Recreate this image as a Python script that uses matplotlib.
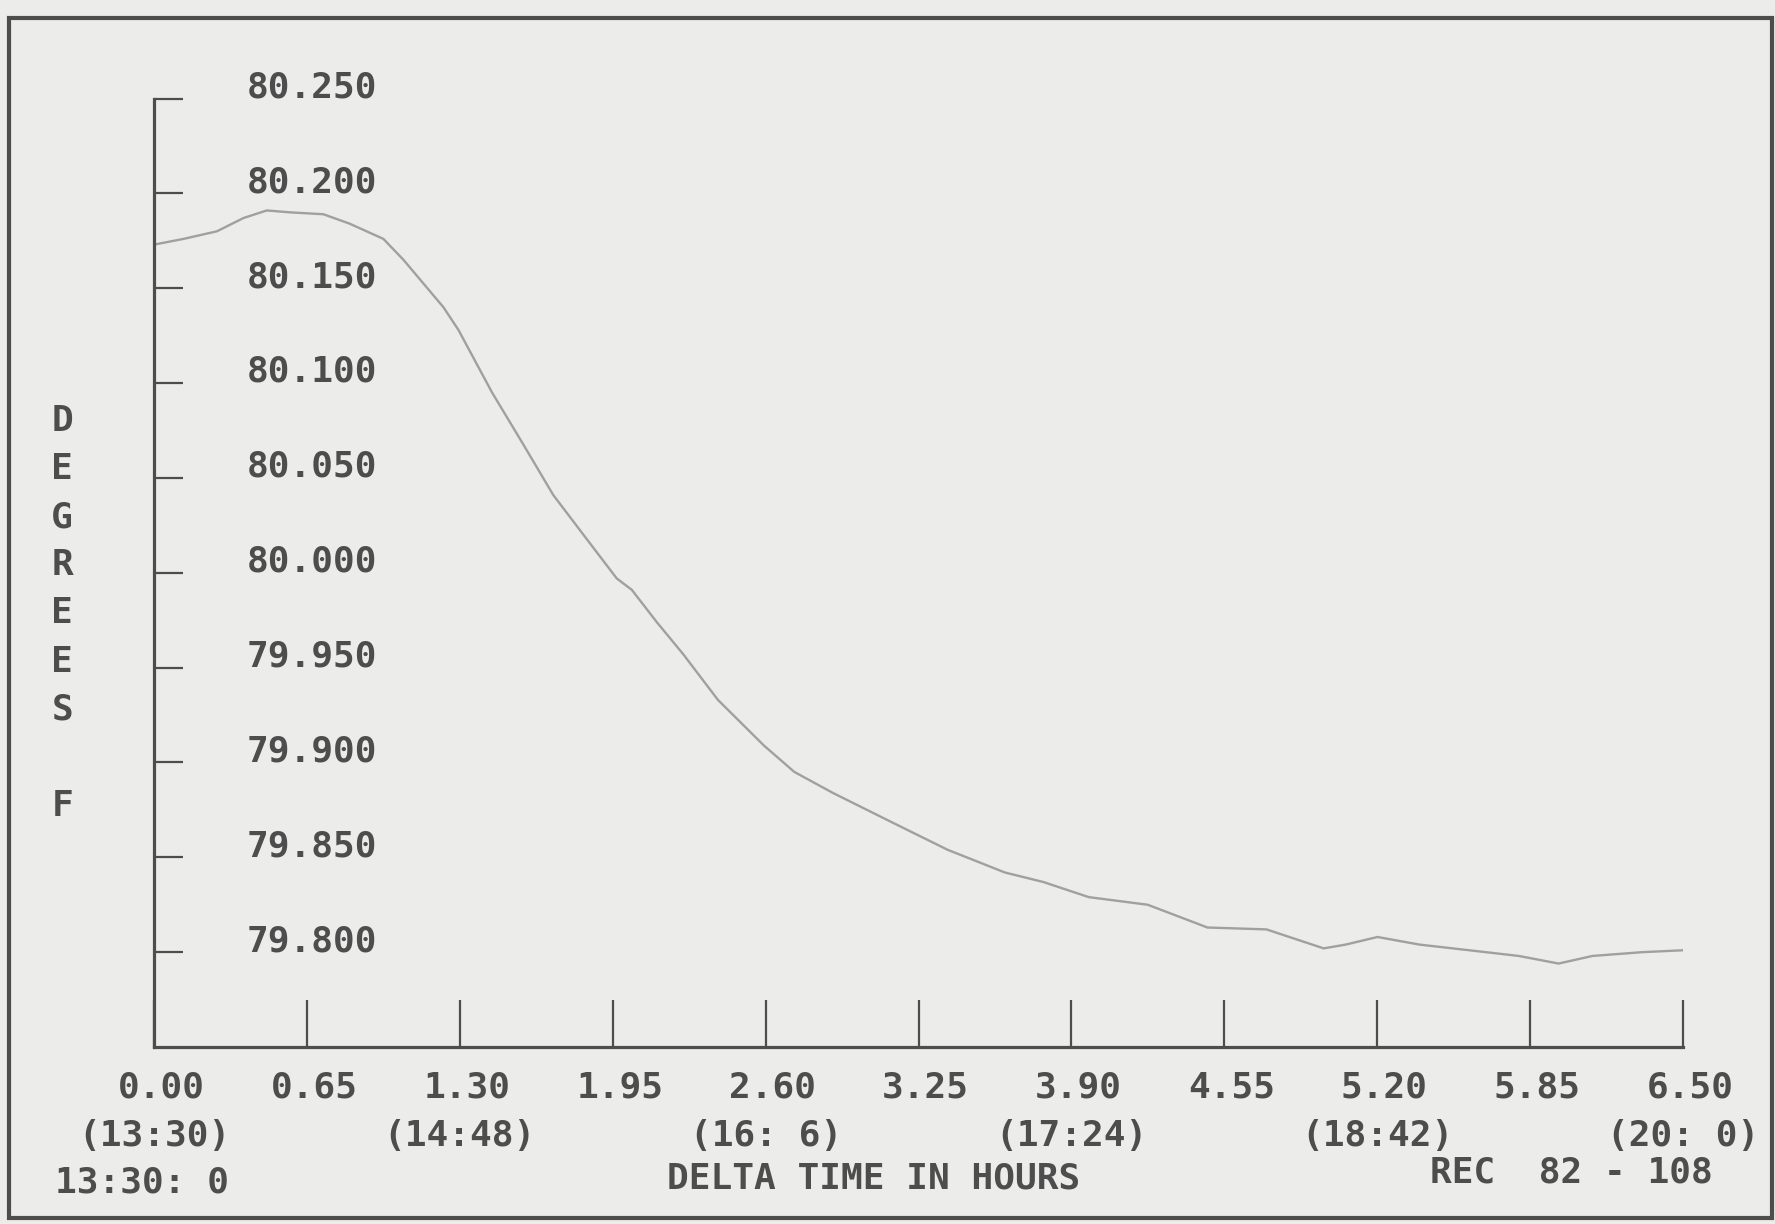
import matplotlib
matplotlib.use("Agg")
import matplotlib.pyplot as plt
from matplotlib.patches import Rectangle
from matplotlib.transforms import offset_copy

# temperature trace (delta time in hours, degrees F)
hours = [0.000, 0.125, 0.267, 0.380, 0.479, 0.578, 0.720, 0.832, 0.975, 1.060,
         1.230, 1.294, 1.437, 1.568, 1.697, 1.844, 1.967, 2.031, 2.137, 2.250,
         2.397, 2.592, 2.722, 2.885, 3.128, 3.373, 3.617, 3.780, 3.974, 4.224,
         4.478, 4.729, 4.972, 5.066, 5.201, 5.379, 5.591, 5.802, 5.971, 6.115,
         6.327, 6.500]
degrees = [80.173, 80.176, 80.180, 80.187, 80.191, 80.190, 80.189, 80.184, 80.176, 80.165,
           80.140, 80.128, 80.095, 80.068, 80.041, 80.017, 79.997, 79.991, 79.974, 79.957,
           79.933, 79.909, 79.895, 79.884, 79.869, 79.854, 79.842, 79.837, 79.829, 79.825,
           79.813, 79.812, 79.802, 79.804, 79.808, 79.804, 79.801, 79.798, 79.794, 79.798,
           79.800, 79.801]

x_ticks = [0.00, 0.65, 1.30, 1.95, 2.60, 3.25, 3.90, 4.55, 5.20, 5.85, 6.50]
x_tick_text = ["0.00", "0.65", "1.30", "1.95", "2.60", "3.25", "3.90", "4.55", "5.20", "5.85", "6.50"]
clock_ticks = [0.00, 1.30, 2.60, 3.90, 5.20, 6.50]
clock_text = ["(13:30)", "(14:48)", "(16: 6)", "(17:24)", "(18:42)", "(20: 0)"]
y_ticks = [79.80, 79.85, 79.90, 79.95, 80.00, 80.05, 80.10, 80.15, 80.20, 80.25]
y_tick_text = ["79.800", "79.850", "79.900", "79.950", "80.000",
               "80.050", "80.100", "80.150", "80.200", "80.250"]
y_title = ["D", "E", "G", "R", "E", "E", "S", " ", "F"]

BG = "#ececea"
INK = "#4d4d4d"
TRACE = "#a0a0a0"
FONT = "DejaVu Sans Mono"
FS = 26

fig = plt.figure(figsize=(17.75, 12.24), dpi=100, facecolor=BG)

# outer frame of the printout
fig.patches.append(Rectangle((0.0051, 0.0049), 0.9932, 0.9804, transform=fig.transFigure,
                             fill=False, edgecolor=INK, linewidth=3))

ax = fig.add_axes([0.0868, 0.1446, 0.8614, 0.7749])
ax.set_facecolor(BG)
ax.plot(hours, degrees, color=TRACE, linewidth=1.7)
ax.set_xlim(0, 6.5)
ax.set_ylim(79.75, 80.25)

for s in ["top", "right"]:
    ax.spines[s].set_visible(False)
for s in ["left", "bottom"]:
    ax.spines[s].set_color(INK)
    ax.spines[s].set_linewidth(2.3)

ax.set_yticks(y_ticks)
ax.set_yticklabels([])
ax.tick_params(axis="y", direction="in", length=21, width=1.6, color=INK)
ax.set_xticks(x_ticks)
ax.set_xticklabels([])
ax.tick_params(axis="x", direction="in", length=34, width=1.6, color=INK)

# y tick labels sit inside the plot, a bit above each tick
ytr = offset_copy(ax.get_yaxis_transform(), fig=fig, x=0, y=8, units="points")
for v, t in zip(y_ticks, y_tick_text):
    ax.text(0.1458, v, t, transform=ytr, ha="right", va="center",
            family=FONT, fontsize=FS, fontweight="bold", color=INK)

# x labels: hours row and clock-time row
xtr = offset_copy(ax.get_xaxis_transform(), fig=fig, x=5, y=0, units="points")
for v, t in zip(x_ticks, x_tick_text):
    ax.text(v, -0.043, t, transform=xtr, ha="center", va="center",
            family=FONT, fontsize=FS, fontweight="bold", color=INK, clip_on=False)
for v, t in zip(clock_ticks, clock_text):
    ax.text(v, -0.094, t, transform=ax.get_xaxis_transform(), ha="center", va="center",
            family=FONT, fontsize=FS, fontweight="bold", color=INK, clip_on=False)

# vertical axis title, one letter per line
for i, ch in enumerate(y_title):
    fig.text(0.035, 0.656 - i * 0.0393, ch, ha="center", va="center",
             family=FONT, fontsize=FS, fontweight="bold", color=INK)

fig.text(0.031, 0.034, "13:30: 0", ha="left", va="center",
         family=FONT, fontsize=FS, fontweight="bold", color=INK)
fig.text(0.492, 0.037, "DELTA TIME IN HOURS", ha="center", va="center",
         family=FONT, fontsize=FS, fontweight="bold", color=INK)
fig.text(0.885, 0.042, "REC  82 - 108", ha="center", va="center",
         family=FONT, fontsize=FS, fontweight="bold", color=INK)

fig.savefig("out.png", dpi=100, facecolor=BG)
